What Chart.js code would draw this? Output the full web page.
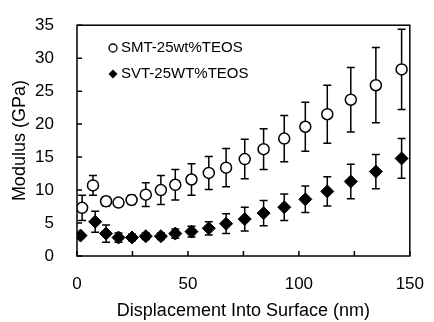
<!DOCTYPE html>
<html>
<head>
<meta charset="utf-8">
<script src="https://cdn.jsdelivr.net/npm/chart.js@4/dist/chart.umd.min.js"></script>
<style>
  html,body{margin:0;padding:0;background:#fff;}
  #wrap{width:434px;height:322px;}
</style>
</head>
<body>
<div id="wrap"><canvas id="graph"></canvas></div>
<script>
/* ---- données ---- */
const profondeur = [2.3, 7.2, 13.1, 18.7, 24.6, 31, 37.8, 44.3, 51.6, 59.4, 67.2, 75.6, 84.1, 93.4, 102.9, 112.8, 123.4, 134.7, 146.3];
const smtModule = [7.3, 10.7, 8.3, 8.1, 8.5, 9.3, 10.0, 10.8, 11.6, 12.6, 13.4, 14.7, 16.2, 17.8, 19.6, 21.5, 23.7, 25.9, 28.3];
const smtErreur = [1.9, 1.5, 0.7, 0.3, 0.7, 1.8, 2.2, 2.3, 2.4, 2.5, 2.9, 3.0, 3.1, 3.5, 3.7, 4.4, 4.9, 5.7, 6.1];
const svtProf = [1.6, 8.2, 13.1, 18.7, 24.8, 31, 37.8, 44.3, 51.6, 59.4, 67.2, 75.6, 84.1, 93.4, 102.9, 112.8, 123.4, 134.7, 146.3];
const svtModule = [3.1, 5.2, 3.4, 2.8, 2.8, 3.0, 3.0, 3.4, 3.7, 4.2, 4.9, 5.6, 6.5, 7.4, 8.6, 9.8, 11.3, 12.8, 14.8];
const svtErreur = [0.3, 1.6, 1.3, 0.7, 0.5, 0.5, 0.5, 0.7, 0.8, 1.0, 1.5, 1.8, 1.9, 2.0, 2.0, 2.2, 2.6, 2.6, 3.0];
const libelles = ['SMT-25wt%TEOS', 'SVT-25WT%TEOS'];
const yTicks = [0, 35, 5];   // min, max, pas
const xTicks = [0, 150, 25];

const POLICE = '"Liberation Sans", Arial, sans-serif';
const points = (xs, ys, es) => xs.map((x,i)=>({x, y:ys[i], e:es[i]}));

/* barres d'erreur sous les marqueurs */
const barresErreur = {
  id:'barresErreur',
  beforeDatasetsDraw(chart){
    const {ctx, scales:{x, y}} = chart;
    ctx.save(); ctx.strokeStyle='#000'; ctx.lineWidth=1.5;
    chart.data.datasets.forEach(ds=>ds.data.forEach(p=>{
      const px=x.getPixelForValue(p.x), h=y.getPixelForValue(p.y+p.e), b=y.getPixelForValue(p.y-p.e);
      ctx.beginPath();
      ctx.moveTo(px,h); ctx.lineTo(px,b);
      ctx.moveTo(px-4,h); ctx.lineTo(px+4,h);
      ctx.moveTo(px-4,b); ctx.lineTo(px+4,b);
      ctx.stroke();
    }));
    ctx.restore();
  }
};

/* cadre, graduations intérieures et légende dans la zone */
const cadre = {
  id:'cadre',
  afterDraw(chart){
    const {ctx, chartArea:a, scales:{x, y}} = chart;
    ctx.save(); ctx.strokeStyle='#000'; ctx.lineWidth=1.5;
    ctx.strokeRect(a.left, a.top, a.right-a.left, a.bottom-a.top);
    ctx.beginPath();
    y.ticks.forEach(t=>{ const py=y.getPixelForValue(t.value); ctx.moveTo(a.left,py); ctx.lineTo(a.left+5,py); });
    x.ticks.forEach(t=>{ const px=x.getPixelForValue(t.value); ctx.moveTo(px,a.bottom); ctx.lineTo(px,a.bottom-5); });
    ctx.stroke();
    // légende
    ctx.fillStyle='#000'; ctx.font='15px '+POLICE; ctx.textBaseline='middle';
    ctx.lineWidth=1.3;
    ctx.beginPath(); ctx.arc(113,48,4,0,Math.PI*2); ctx.fillStyle='#fff'; ctx.fill(); ctx.stroke();
    ctx.fillStyle='#000';
    ctx.fillText(libelles[0],121,48);
    ctx.beginPath(); ctx.moveTo(113,69.5); ctx.lineTo(117.5,74); ctx.lineTo(113,78.5); ctx.lineTo(108.5,74); ctx.closePath(); ctx.fill();
    ctx.fillText(libelles[1],121,74);
    ctx.restore();
  }
};

new Chart(document.getElementById('graph'), {
  type:'scatter',
  data:{datasets:[
    {label:libelles[0], data:points(profondeur, smtModule, smtErreur), pointStyle:'circle', pointRadius:5.5,
     pointBackgroundColor:'#fff', pointBorderColor:'#000', pointBorderWidth:1.5},
    {label:libelles[1], data:points(svtProf, svtModule, svtErreur), pointStyle:'rectRot', pointRadius:6.5,
     pointBackgroundColor:'#000', pointBorderColor:'#000', pointBorderWidth:1}
  ]},
  options:{
    responsive:true, maintainAspectRatio:false, animation:false,
    layout:{padding:{top:22, right:17, left:0, bottom:0}},
    plugins:{legend:{display:false}, tooltip:{enabled:false}},
    scales:{
      x:{min:xTicks[0], max:xTicks[1], grid:{display:false}, border:{display:false},
         ticks:{stepSize:xTicks[2], padding:10, color:'#000', maxRotation:0, font:{family:POLICE, size:17},
                callback:v=> v%50===0 ? v : ''},
         title:{display:true, text:'Displacement Into Surface (nm)', color:'#000', padding:{top:0,bottom:0}, font:{family:POLICE, size:18}},
         afterFit:s=>{ s.height=66; }},
      y:{min:yTicks[0], max:yTicks[1], grid:{display:false}, border:{display:false},
         ticks:{stepSize:yTicks[2], padding:15, color:'#000', font:{family:POLICE, size:17}},
         title:{display:true, text:'Modulus (GPa)', color:'#000', padding:{top:9,bottom:0}, font:{family:POLICE, size:18}},
         afterFit:s=>{ s.width=77; }}
    }
  },
  plugins:[barresErreur, cadre]
});
</script>
</body>
</html>
